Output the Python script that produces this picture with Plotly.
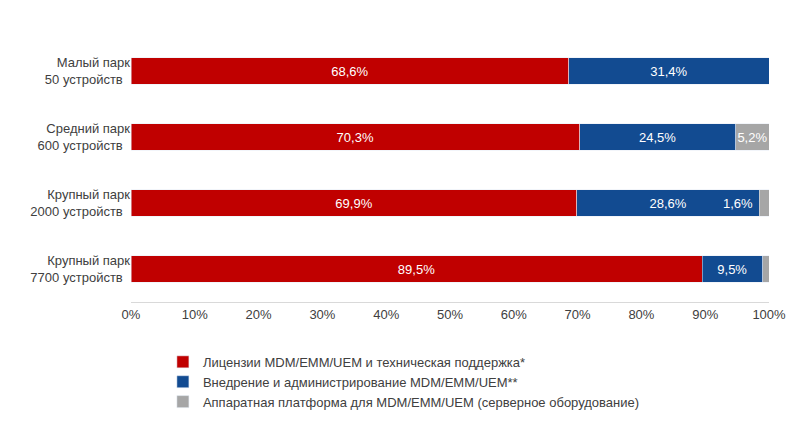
import plotly.graph_objects as go

categories = ["Малый парк<br>50 устройств", "Средний парк<br>600 устройств",
              "Крупный парк<br>2000 устройств", "Крупный парк<br>7700 устройств"]
licenses = [68.6, 70.3, 69.9, 89.5]
services = [31.4, 24.5, 28.6, 9.5]
hardware = [0.0, 5.2, 1.6, 1.0]
hw_labels = ["", "5,2%", "", ""]
names = ["Лицензии MDM/EMM/UEM и техническая поддержка*",
         "Внедрение и администрирование MDM/EMM/UEM**",
         "Аппаратная платформа для MDM/EMM/UEM (серверное оборудование)"]

fmt = lambda v: f"{v:.1f}%".replace(".", ",")

fig = go.Figure()
fig.add_trace(go.Bar(y=categories, x=licenses, name=names[0], orientation="h",
                     marker_color="#C00000", text=[fmt(v) for v in licenses]))
fig.add_trace(go.Bar(y=categories, x=services, name=names[1], orientation="h",
                     marker_color="#124B91", text=[fmt(v) for v in services]))
fig.add_trace(go.Bar(y=categories, x=hardware, name=names[2], orientation="h",
                     marker_color="#A6A6A6", text=hw_labels))
fig.update_traces(textposition="inside", insidetextanchor="middle",
                  textfont=dict(color="white", size=13), width=0.4)

# small gray share label placed inside the blue segment end
fig.add_annotation(x=licenses[2] + services[2], y=categories[2], text=fmt(hardware[2]),
                   showarrow=False, xanchor="right", xshift=-4,
                   font=dict(color="white", size=13))

fig.update_layout(
    barmode="stack", width=800, height=421, plot_bgcolor="white", paper_bgcolor="white",
    font=dict(family="Liberation Sans, Arial", size=13, color="#404040"),
    margin=dict(l=123, r=39, t=30, b=121),
    yaxis=dict(autorange="reversed", ticks="", ticksuffix="  "),
    xaxis=dict(range=[0, 100], dtick=10, ticksuffix="%", showgrid=False,
               showline=True, linecolor="#D9D9D9"),
    legend=dict(orientation="v", x=0.05, y=-0.17, xanchor="left", yanchor="top",
                traceorder="normal", font=dict(size=13), tracegroupgap=8,
                itemwidth=30),
    showlegend=True, uniformtext=dict(mode="show", minsize=13),
)
fig.write_html("out.html")
